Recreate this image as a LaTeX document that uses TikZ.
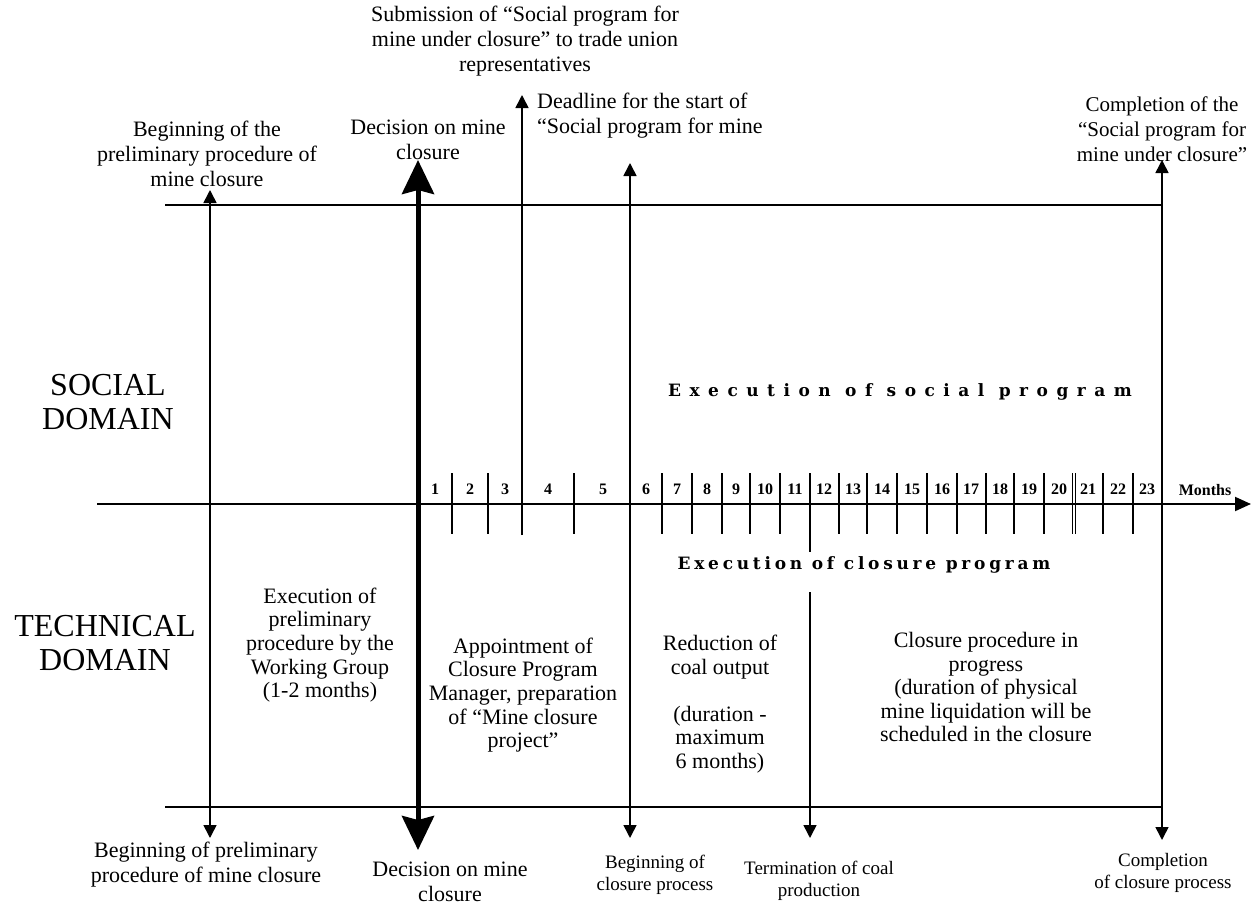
\documentclass[tikz,border=0pt]{standalone}
\usepackage{fontspec}
\setmainfont{Liberation Serif}
\newfontfamily\socfont{DejaVu Serif}[LetterSpace=50]
\newfontfamily\closfont{DejaVu Serif}[LetterSpace=22]
\usetikzlibrary{arrows.meta}
\begin{document}
\begin{tikzpicture}[x=1pt,y=-1pt,
  ln/.style={line width=1.6pt},
  tk/.style={line width=1.8pt},
  uparr/.style={line width=1.6pt,-{Triangle[width=13pt,length=13pt]}},
  dblarr/.style={line width=1.6pt,{Triangle[width=13pt,length=13pt]}-{Triangle[width=13pt,length=13pt]}},
  bigarr/.style={line width=5pt,{Stealth[width=32pt,length=34pt,inset=4pt]}-{Stealth[width=32pt,length=34pt,inset=4pt]}},
  lbl/.style={font=\fontsize{22}{25}\selectfont,align=center,inner sep=0pt},
  sml/.style={font=\fontsize{19}{22}\selectfont,align=center,inner sep=0pt},
  dom/.style={font=\fontsize{32}{34}\selectfont,align=center,inner sep=0pt},
  num/.style={font=\fontsize{16}{16}\selectfont\bfseries,inner sep=0pt}]
\useasboundingbox (0,0) rectangle (1251,907);
\fill[white] (0,0) rectangle (1251,907);
% frame lines
\coordinate (tl) at (165,205); \coordinate (tr) at (1162,205);
\coordinate (bl) at (165,807); \coordinate (br) at (1162,807);
\draw[ln] (tl) -- (tr);
\draw[ln] (bl) -- (br);
% axis
\coordinate (axL) at (97,504); \coordinate (axR) at (1251,504);
\draw[line width=2pt,-{Triangle[width=14pt,length=16pt]}] (axL) -- (axR);
% vertical arrows
\coordinate (a1t) at (210,190); \coordinate (a1b) at (210,838);
\draw[dblarr] (a1b) -- (a1t);
\coordinate (a2t) at (418,160); \coordinate (a2b) at (418,850);
\draw[bigarr] (a2b) -- (a2t);
\coordinate (a3t) at (522,95); \coordinate (a3b) at (522,535);
\draw[uparr] (a3b) -- (a3t);
\coordinate (a4t) at (630,163); \coordinate (a4b) at (630,838);
\draw[dblarr] (a4b) -- (a4t);
\coordinate (a5t) at (810,592); \coordinate (a5b) at (810,838);
\draw[uparr] (a5t) -- (a5b);
\coordinate (a6t) at (1162,160); \coordinate (a6b) at (1162,840);
\draw[dblarr] (a6b) -- (a6t);
% ticks
\foreach \x in {452,488,574,662,692,722,750,780,839,867,897,927,957,986,1014,1044,1103,1133}
  \draw[tk] (\x,473) -- (\x,534);
\draw[tk] (1072.5,473) -- (1072.5,534);
\draw[tk] (1075.5,473) -- (1075.5,534);
\draw[tk] (810,473) -- (810,552);
% month numbers
\foreach \n/\x in {1/435,2/470,3/505,4/548,5/603,6/646,7/677,8/707,9/736,10/765,11/795,12/824,13/853,14/882,15/912,16/942,17/971,18/1000,19/1029,20/1059,21/1088,22/1118,23/1147}
  \node[num] (m\n) at (\x,489) {\n};
\node[num] (months) at (1205,490) {Months};
% domain labels
\node[dom] (social) at (108,402) {SOCIAL\\DOMAIN};
\node[dom] (technical) at (105,643) {TECHNICAL\\DOMAIN};
% program headings
\node[inner sep=0pt,font=\fontsize{17}{17}\selectfont\socfont\bfseries] (execsoc) at (900,392) {Execution of social program};
\node[inner sep=0pt,font=\fontsize{17}{17}\selectfont\closfont\bfseries] (execclos) at (864,565) {Execution of closure program};
% top labels
\node[lbl] (t1) at (207,154) {Beginning of the\\preliminary procedure of\\mine closure};
\node[lbl] (t2) at (428,140) {Decision on mine\\closure};
\node[lbl] (t3) at (525,41) {Submission of “Social program for\\mine under closure” to trade union\\representatives};
\node[lbl,align=left,anchor=west] (t4) at (537,116) {Deadline for the start of\\“Social program for mine};
\node[lbl,font=\fontsize{21}{25}\selectfont] (t5) at (1162,129) {Completion of the\\“Social program for\\mine under closure”};
% middle labels
\node[lbl,font=\fontsize{22}{23.7}\selectfont] (p1) at (320,645) {Execution of\\preliminary\\procedure by the\\Working Group\\(1-2 months)};
\node[lbl,font=\fontsize{22}{23.7}\selectfont] (p2) at (523,695) {Appointment of\\Closure Program\\Manager, preparation\\of “Mine closure\\project”};
\node[lbl,font=\fontsize{22}{23.5}\selectfont] (p3) at (720,704) {Reduction of\\coal output\\[23.5pt](duration -\\maximum\\6 months)};
\node[lbl,font=\fontsize{22}{23.5}\selectfont] (p4) at (986,687) {Closure procedure in\\progress\\(duration of physical\\mine liquidation will be\\scheduled in the closure};
% bottom labels
\node[lbl] (b1) at (206,865) {Beginning of preliminary\\procedure of mine closure};
\node[lbl] (b2) at (450,882) {Decision on mine\\closure};
\node[sml] (b3) at (655,875) {Beginning of\\closure process};
\node[sml] (b4) at (819,881) {Termination of coal\\production};
\node[sml] (b5) at (1163,873) {Completion\\of closure process};
\end{tikzpicture}
\end{document}
